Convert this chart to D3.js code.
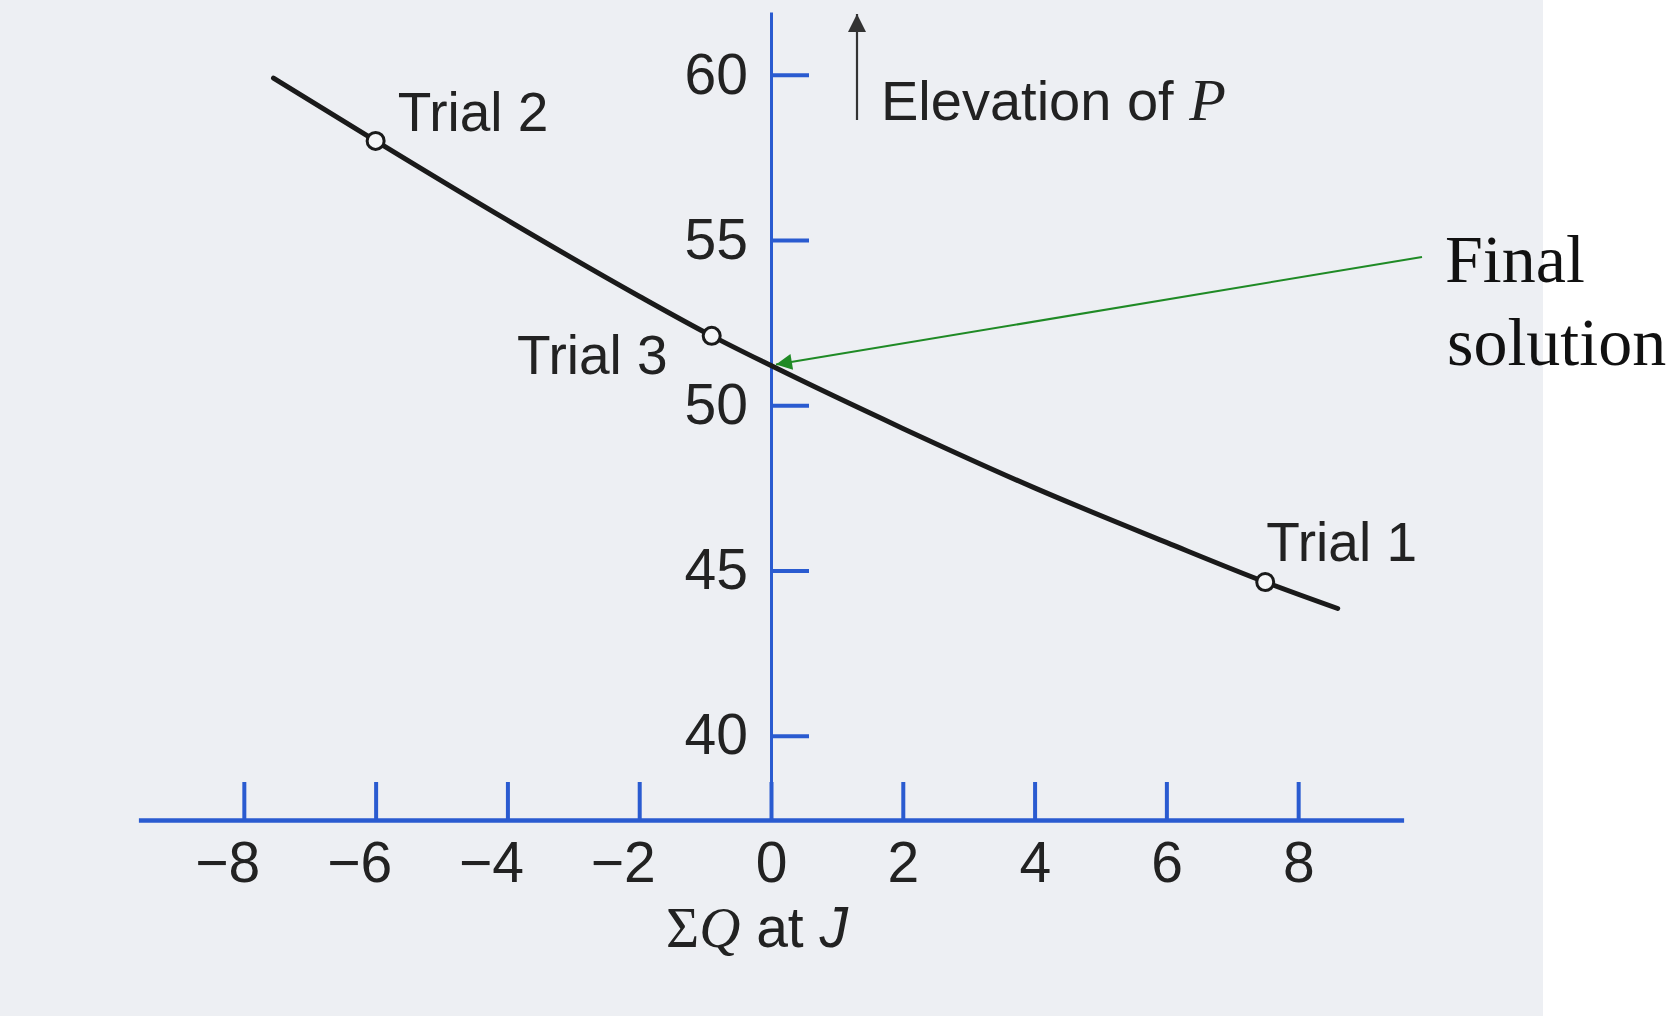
<!DOCTYPE html>
<html>
<head>
<meta charset="utf-8">
<script src="https://cdn.jsdelivr.net/npm/d3@7"></script>
<style>
  html, body { margin: 0; padding: 0; background: #ffffff; }
  svg { display: block; }
</style>
</head>
<body>
<svg id="chart" width="1680" height="1016"></svg>
<script>
// Sum of flows at junction J versus the trial elevation of P
const curveQ    = [-7.55, -6, -4, -2, -0.9, 0, 2, 4, 6, 7.5, 8.6];
const curveElev = [59.9, 58.0, 55.6, 53.3, 52.1, 51.2, 49.3, 47.5, 45.85, 44.65, 43.85];

// Trial iterations marked on the curve
const trialNames = ["Trial 1", "Trial 2", "Trial 3"];
const trialQ     = [7.5, -6, -0.9];
const trialElev  = [44.65, 58.0, 52.1];

// Solution where the flow balance is zero
const solutionQ = 0;
const solutionElev = 51.2;

// Axis ticks
const xTicks = [-8, -6, -4, -2, 0, 2, 4, 6, 8];
const yTicks = [40, 45, 50, 55, 60];

const svg = d3.select("#chart");
const blue = "#2a5bd0";
const ink = "#222222";

// paper tone of the printed page
svg.append("rect").attr("x", 0).attr("y", 0).attr("width", 1543).attr("height", 1016)
  .attr("fill", "#edeff3");

const x = d3.scaleLinear().domain([-9.6, 9.6]).range([138.4, 1403.6]);
const y = d3.scaleLinear().domain([37.45, 61.9]).range([820, 12]);

const sans = "'Liberation Sans', Arial, Helvetica, sans-serif";
const serif = "'Liberation Serif', 'Times New Roman', serif";

// horizontal axis: ticks point up, labels below
const xAxis = d3.axisBottom(x)
  .tickValues(xTicks)
  .tickSizeInner(-38)
  .tickSizeOuter(0)
  .tickPadding(22)
  .tickFormat(d => d < 0 ? "\u2212" + Math.abs(d) : String(d));

const gx = svg.append("g").attr("transform", `translate(0,${y(37.45)})`).call(xAxis);
gx.select(".domain").attr("stroke", blue).attr("stroke-width", 4.5);
gx.selectAll(".tick line").attr("stroke", blue).attr("stroke-width", 4);
gx.selectAll(".tick text")
  .attr("fill", ink).attr("font-family", sans).attr("font-size", 57)
  .attr("text-anchor", "end").attr("dx", 16);

// vertical axis at zero flow: ticks point right, labels left
const yAxis = d3.axisLeft(y)
  .tickValues(yTicks)
  .tickSizeInner(-38)
  .tickSizeOuter(0)
  .tickPadding(23);

const gy = svg.append("g").attr("transform", `translate(${x(0)},0)`).call(yAxis);
gy.select(".domain").attr("stroke", blue).attr("stroke-width", 3);
gy.selectAll(".tick line").attr("stroke", blue).attr("stroke-width", 4);
gy.selectAll(".tick text")
  .attr("fill", ink).attr("font-family", sans).attr("font-size", 57);

// arrowheads
const defs = svg.append("defs");
defs.append("marker").attr("id", "upHead")
  .attr("viewBox", "0 0 10 10").attr("refX", 10).attr("refY", 5)
  .attr("markerWidth", 28).attr("markerHeight", 18).attr("markerUnits", "userSpaceOnUse")
  .attr("orient", "auto")
  .append("path").attr("d", "M0,0 L10,5 L0,10 z").attr("fill", "#333");

defs.append("marker").attr("id", "greenHead")
  .attr("viewBox", "0 0 10 10").attr("refX", 10).attr("refY", 5)
  .attr("markerWidth", 26).attr("markerHeight", 16).attr("markerUnits", "userSpaceOnUse")
  .attr("orient", "auto")
  .append("path").attr("d", "M0,0 L10,5 L0,10 z").attr("fill", "#1f8a25");

// "Elevation of P" with upward arrow
svg.append("line")
  .attr("x1", 857).attr("y1", 120).attr("x2", 857).attr("y2", 14)
  .attr("stroke", "#333").attr("stroke-width", 2.2)
  .attr("marker-end", "url(#upHead)");

const elevLabel = svg.append("text")
  .attr("x", 881).attr("y", 120)
  .attr("fill", ink).attr("font-family", sans).attr("font-size", 56);
elevLabel.append("tspan").text("Elevation of ");
elevLabel.append("tspan").attr("font-family", serif).attr("font-style", "italic")
  .attr("font-size", 60).text("P");

// the curve
const pts = curveQ.map((q, i) => [q, curveElev[i]]);
const line = d3.line().x(d => x(d[0])).y(d => y(d[1])).curve(d3.curveMonotoneX);
svg.append("path").datum(pts)
  .attr("d", line)
  .attr("fill", "none").attr("stroke", "#1a1a1a").attr("stroke-width", 5)
  .attr("stroke-linecap", "round");

// trial markers
const trials = trialNames.map((n, i) => ({ name: n, q: trialQ[i], e: trialElev[i] }));
svg.selectAll("circle.trial").data(trials).enter().append("circle")
  .attr("class", "trial")
  .attr("cx", d => x(d.q)).attr("cy", d => y(d.e)).attr("r", 8.5)
  .attr("fill", "#f4f5f7").attr("stroke", "#1a1a1a").attr("stroke-width", 3);

const labelOffsets = {
  "Trial 1": { dx: 1, dy: -21, anchor: "start" },
  "Trial 2": { dx: 22, dy: -10, anchor: "start" },
  "Trial 3": { dx: -44, dy: 38, anchor: "end" }
};
svg.selectAll("text.trial").data(trials).enter().append("text")
  .attr("class", "trial")
  .attr("x", d => x(d.q) + labelOffsets[d.name].dx)
  .attr("y", d => y(d.e) + labelOffsets[d.name].dy)
  .attr("text-anchor", d => labelOffsets[d.name].anchor)
  .attr("fill", ink).attr("font-family", sans).attr("font-size", 55)
  .text(d => d.name);

// final solution pointer
svg.append("line")
  .attr("x1", 1422).attr("y1", 257)
  .attr("x2", x(solutionQ) + 5).attr("y2", y(solutionElev) - 1)
  .attr("stroke", "#1f8a25").attr("stroke-width", 2)
  .attr("marker-end", "url(#greenHead)");

const fin = svg.append("text").attr("font-family", serif).attr("font-size", 68).attr("fill", "#111");
fin.append("tspan").attr("x", 1445).attr("y", 282).text("Final");
fin.append("tspan").attr("x", 1447).attr("y", 365).text("solution");

// x-axis title: ΣQ at J
const xt = svg.append("text").attr("x", x(0) - 14).attr("y", 947)
  .attr("text-anchor", "middle").attr("fill", ink).attr("font-size", 57);
xt.append("tspan").attr("font-family", serif).text("\u03A3");
xt.append("tspan").attr("font-family", serif).attr("font-style", "italic").text("Q");
xt.append("tspan").attr("font-family", sans).text(" at ");
xt.append("tspan").attr("font-family", sans).attr("font-style", "italic").text("J");
</script>
</body>
</html>
